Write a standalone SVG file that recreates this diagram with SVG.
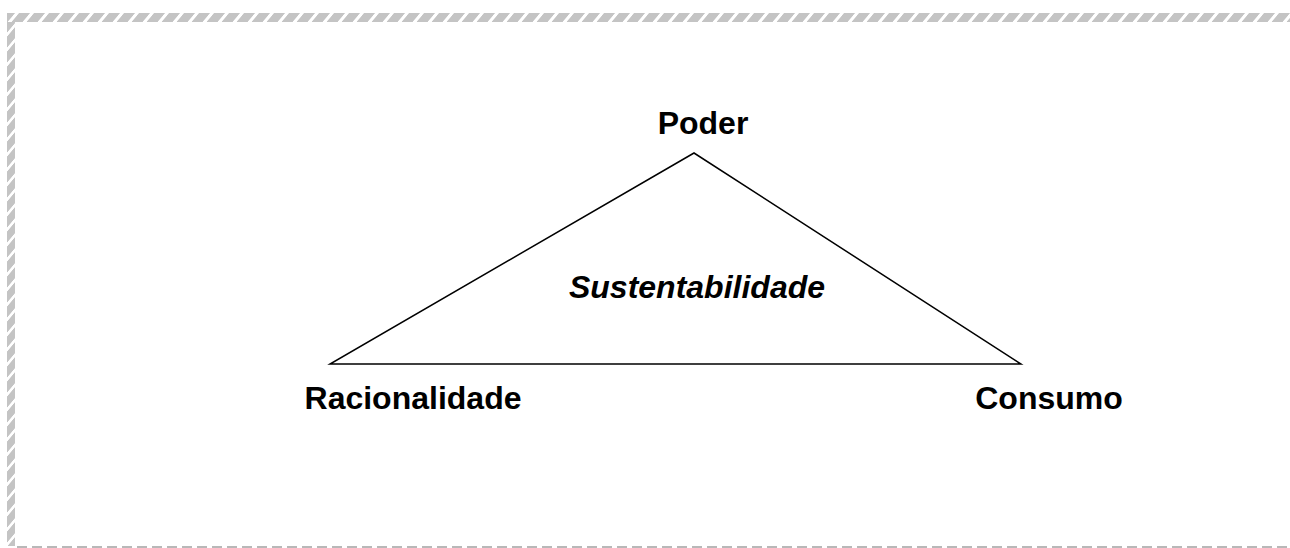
<svg xmlns="http://www.w3.org/2000/svg" width="1290" height="548" viewBox="0 0 1290 548">
<defs>
<pattern id="hatch" patternUnits="userSpaceOnUse" width="15" height="15" patternTransform="skewX(-40)">
<rect x="0" y="0" width="11" height="15" fill="#c4c4c4"/>
</pattern>
<pattern id="hatchV" patternUnits="userSpaceOnUse" width="15" height="15" patternTransform="skewY(-50)">
<rect x="0" y="0" width="15" height="11" fill="#c4c4c4"/>
</pattern>
</defs>
<style>
.lbl{font-family:"Liberation Sans",Arial,sans-serif;font-weight:bold;font-size:32px;fill:#000;text-anchor:middle}
.it{font-style:italic}
.edge{fill:none;stroke:#000;stroke-width:1.5}
</style>
<rect width="1290" height="548" fill="#fff"/>
<g id="border">
<rect x="7" y="13" width="1283" height="9" fill="url(#hatch)"/>
<rect x="7" y="22" width="8" height="524" fill="url(#hatchV)"/>
<line x1="17" y1="547" x2="1290" y2="547" stroke="#b8b8b8" stroke-width="2" stroke-dasharray="10 5"/>
</g>
<g id="connectors">
<path class="edge" d="M694 153 L330 364 L1021 364 Z"/>
</g>
<g id="node-poder"><text class="lbl" x="703" y="134">Poder</text></g>
<g id="node-racionalidade"><text class="lbl" x="413" y="409">Racionalidade</text></g>
<g id="node-consumo"><text class="lbl" x="1049" y="409">Consumo</text></g>
<g id="node-sustentabilidade"><text class="lbl it" x="697" y="298">Sustentabilidade</text></g>
</svg>
